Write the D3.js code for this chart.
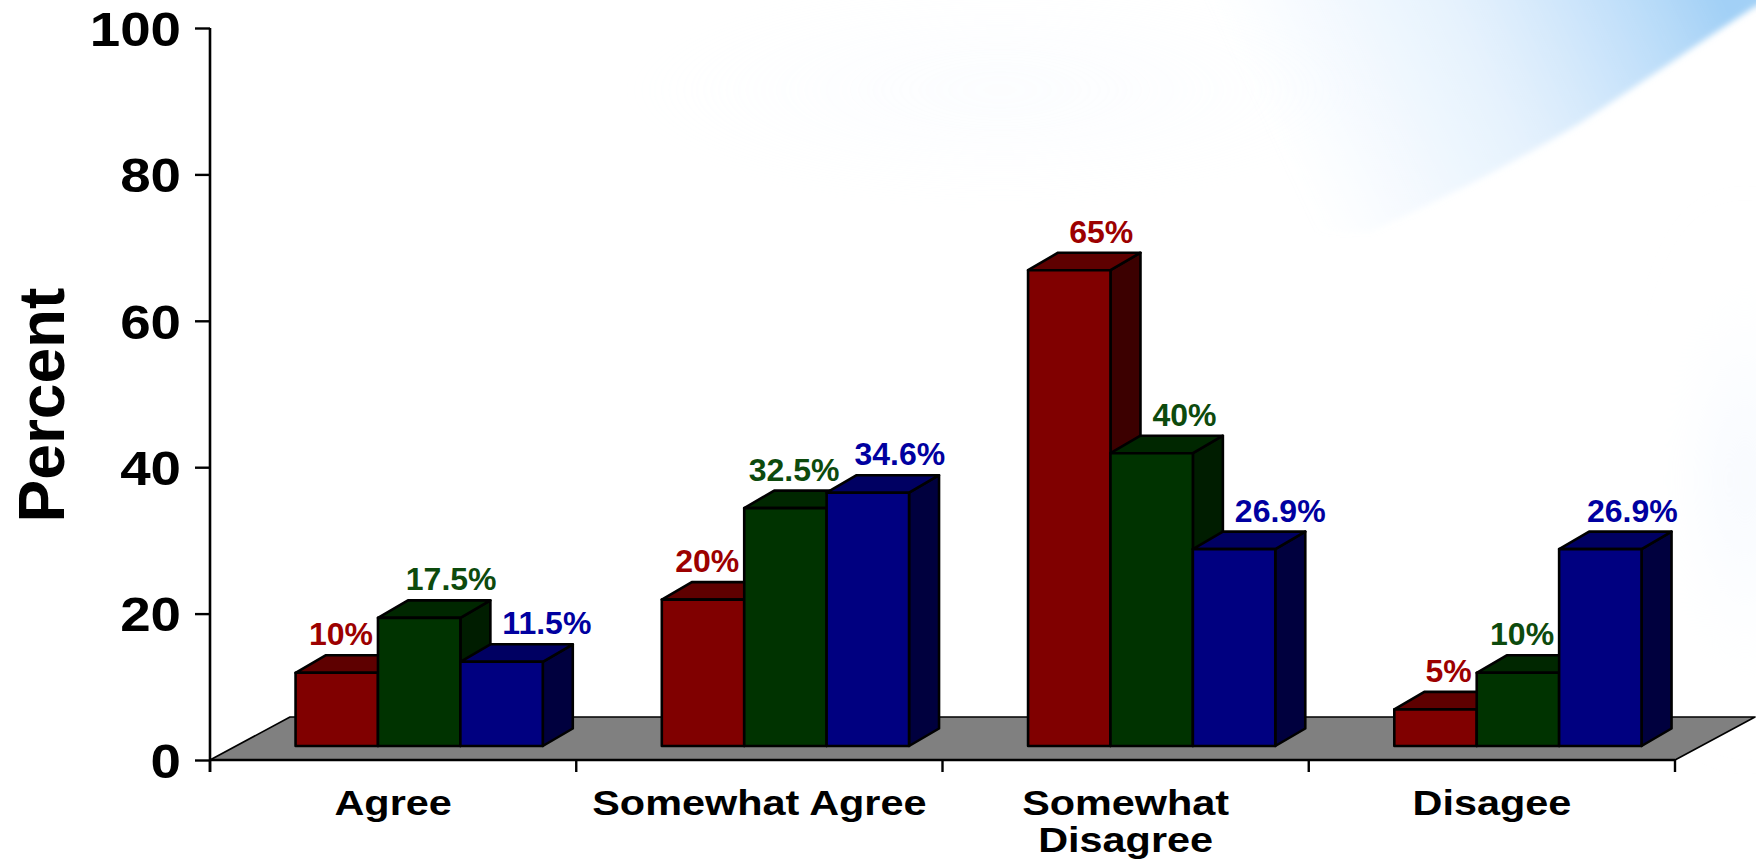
<!DOCTYPE html>
<html>
<head>
<meta charset="utf-8">
<script src="https://cdn.jsdelivr.net/npm/d3@7"></script>
<style>
  html, body { margin: 0; padding: 0; background: #ffffff; }
  svg { display: block; }
  text { font-family: "Liberation Sans", Arial, Helvetica, sans-serif; font-weight: bold; }
</style>
</head>
<body>
<svg id="chart" width="1756" height="862"></svg>
<script>
// ---- data ----
const categories = ["Agree", "Somewhat Agree", "Somewhat Disagree", "Disagee"];
const seriesNames = ["Series 1", "Series 2", "Series 3"];
const series1 = [10, 20, 65, 5];
const series2 = [17.5, 32.5, 40, 10];
const series3 = [11.5, 34.6, 26.9, 26.9];
const yTicks = [0, 20, 40, 60, 80, 100];
const yTitle = "Percent";

// ---- styling ----
const faceColors = [
  { front: "#800000", top: "#5e0000", side: "#3c0000", label: "#9c0000" },
  { front: "#003300", top: "#002700", side: "#001d00", label: "#0d4a0d" },
  { front: "#000080", top: "#000062", side: "#00003e", label: "#0000a0" }
];

const W = 1756, H = 862;
const svg = d3.select("#chart");

// ---- background: white slide with a soft sky-blue sweep in the upper right ----
const defs = svg.append("defs");
const sky = defs.append("linearGradient").attr("id", "sky")
  .attr("gradientUnits", "userSpaceOnUse")
  .attr("x1", 1300).attr("y1", 200).attr("x2", 1720).attr("y2", 0);
sky.append("stop").attr("offset", 0).attr("stop-color", "#d6eafc").attr("stop-opacity", 0);
sky.append("stop").attr("offset", 0.5).attr("stop-color", "#c9e3fb").attr("stop-opacity", 0.5);
sky.append("stop").attr("offset", 1).attr("stop-color", "#a2d0f6").attr("stop-opacity", 1);
const haze = defs.append("radialGradient").attr("id", "haze")
  .attr("cx", 0.5).attr("cy", 0.5).attr("r", 0.5);
haze.append("stop").attr("offset", 0).attr("stop-color", "#eef5fd").attr("stop-opacity", 0.8);
haze.append("stop").attr("offset", 1).attr("stop-color", "#ffffff").attr("stop-opacity", 0);
defs.append("filter").attr("id", "soft").attr("x", "-10%").attr("y", "-10%").attr("width", "120%").attr("height", "120%")
  .append("feGaussianBlur").attr("stdDeviation", 3);
defs.append("filter").attr("id", "softer").attr("x", "-20%").attr("y", "-20%").attr("width", "140%").attr("height", "140%")
  .append("feGaussianBlur").attr("stdDeviation", 30);

svg.append("rect").attr("width", W).attr("height", H).attr("fill", "#ffffff");
const bg = svg.append("g");
bg.append("ellipse").attr("cx", 1000).attr("cy", 90).attr("rx", 480).attr("ry", 130)
  .attr("fill", "url(#haze)").attr("filter", "url(#softer)").attr("opacity", 0.35);
bg.append("ellipse").attr("cx", 1745).attr("cy", 480).attr("rx", 70).attr("ry", 260)
  .attr("fill", "url(#haze)").attr("filter", "url(#softer)");
bg.append("path")
  .attr("d", "M1200,-10 L1766,-10 L1766,4 L1756,6 C1700,42 1640,84 1580,123 C1510,165 1440,200 1370,232 L1200,232 Z")
  .attr("fill", "url(#sky)")
  .attr("filter", "url(#soft)");

// ---- scales ----
const y = d3.scaleLinear().domain([0, 100]).range([760, 28]);
const x = d3.scaleBand().domain(categories).range([210, 1675]);
const floorDepth = { dx: 80, dy: -43 };
const barDepth = { dx: 30, dy: -17.5 };
const barInset = 14 / 43;                       // bars stand part-way back on the floor
const groupWidth = x.bandwidth() * 0.675;
const inner = d3.scaleBand().domain(seriesNames).range([0, groupWidth]);
const insetX = floorDepth.dx * barInset;
const insetY = floorDepth.dy * barInset;

const [x0, x1] = x.range();
const y0 = y(0);

// ---- floor ----
svg.append("path")
  .attr("d", d3.line()([
    [x0, y0], [x1, y0],
    [x1 + floorDepth.dx, y0 + floorDepth.dy],
    [x0 + floorDepth.dx, y0 + floorDepth.dy]
  ]) + "Z")
  .attr("fill", "#808080")
  .attr("stroke", "#000")
  .attr("stroke-width", 1.6)
  .attr("stroke-linejoin", "round");

// ---- y axis ----
const tickScaleX = 1.14;
const yAxis = svg.append("g")
  .attr("transform", `translate(${x0},0)`)
  .call(d3.axisLeft(y).tickValues(yTicks).tickSize(15).tickSizeOuter(0));
yAxis.select(".domain").remove();
yAxis.selectAll(".tick line").attr("stroke", "#000").attr("stroke-width", 2.4);
yAxis.selectAll(".tick text")
  .attr("x", -29 / tickScaleX)
  .attr("dy", "0.36em")
  .attr("transform", `scale(${tickScaleX},1)`)
  .attr("font-size", 48)
  .attr("font-family", "'Liberation Sans', Arial, sans-serif")
  .attr("font-weight", "bold")
  .attr("fill", "#000");
svg.append("line")
  .attr("x1", x0).attr("x2", x0)
  .attr("y1", y(100)).attr("y2", y0 + 12)
  .attr("stroke", "#000").attr("stroke-width", 2.6);

svg.append("text")
  .attr("transform", `translate(64,${(y(0) + y(100)) / 2 + 11}) rotate(-90)`)
  .attr("text-anchor", "middle")
  .attr("font-size", 64)
  .attr("fill", "#000")
  .text(yTitle);

// ---- x axis ----
svg.append("line")
  .attr("x1", x0).attr("x2", x1)
  .attr("y1", y0).attr("y2", y0)
  .attr("stroke", "#000").attr("stroke-width", 2.6);
svg.append("g").selectAll("line")
  .data([...categories.map(c => x(c)), x1])
  .join("line")
  .attr("x1", d => d).attr("x2", d => d)
  .attr("y1", y0).attr("y2", y0 + 12)
  .attr("stroke", "#000").attr("stroke-width", 2.4);

const catScaleX = 1.15;
const catFont = 36;
const xAxis = svg.append("g")
  .attr("transform", `translate(0,${y0})`)
  .call(d3.axisBottom(x).tickSize(0).tickPadding(0));
xAxis.select(".domain").remove();
xAxis.selectAll(".tick text")
  .attr("font-size", catFont)
  .attr("font-family", "'Liberation Sans', Arial, sans-serif")
  .attr("font-weight", "bold")
  .attr("fill", "#000")
  .attr("transform", `scale(${catScaleX},1)`)
  .attr("y", 55)
  .attr("dy", 0)
  .each(function (d) {
    // wrap labels that are wider than their band
    const t = d3.select(this);
    const words = d.split(" ");
    t.text(d);
    if (this.getComputedTextLength() * catScaleX <= x.bandwidth() - 10) return;
    t.text(null);
    const lines = [];
    let cur = [];
    words.forEach(w => {
      const test = cur.concat([w]).join(" ");
      t.text(test);
      if (cur.length && this.getComputedTextLength() * catScaleX > x.bandwidth() - 10) {
        lines.push(cur.join(" "));
        cur = [w];
      } else cur.push(w);
    });
    lines.push(cur.join(" "));
    t.text(null);
    lines.forEach((ln, i) => {
      t.append("tspan").attr("x", 0).attr("y", 55 + i * 37).text(ln);
    });
  });

// ---- 3D bars ----
const allSeries = [series1, series2, series3];
const bars = [];
categories.forEach((c, ci) => {
  allSeries.forEach((vals, si) => {
    const v = vals[ci];
    const left = x(c) + (x.bandwidth() - groupWidth) / 2 + insetX + inner(seriesNames[si]);
    const w = inner.bandwidth();
    bars.push({
      ci, si, v, left, w,
      right: left + w,
      top: y(v) + insetY,
      base: y0 + insetY
    });
  });
});

const barG = svg.append("g")
  .attr("stroke", "#000")
  .attr("stroke-width", 2.6)
  .attr("stroke-linejoin", "round");
const line = d3.line();
bars.forEach(b => {
  const g = barG.append("g");
  const dx = barDepth.dx, dy = barDepth.dy;
  g.append("path")
    .attr("fill", faceColors[b.si].side)
    .attr("d", line([[b.right, b.base], [b.right + dx, b.base + dy], [b.right + dx, b.top + dy], [b.right, b.top]]) + "Z");
  g.append("path")
    .attr("fill", faceColors[b.si].top)
    .attr("d", line([[b.left, b.top], [b.right, b.top], [b.right + dx, b.top + dy], [b.left + dx, b.top + dy]]) + "Z");
  g.append("path")
    .attr("fill", faceColors[b.si].front)
    .attr("d", line([[b.left, b.base], [b.right, b.base], [b.right, b.top], [b.left, b.top]]) + "Z");
});

// ---- value labels, nudged sideways to stay clear of neighbouring bars ----
const labelFont = 32;
const labelG = svg.append("g");
const labels = bars.map(b => {
  const t = labelG.append("text")
    .attr("font-size", labelFont)
    .attr("fill", faceColors[b.si].label)
    .attr("text-anchor", "middle")
    .text(b.v + "%");
  const w = t.node().getComputedTextLength();
  return {
    b, t, w,
    cx: b.left + b.w / 2 + barDepth.dx + 2,
    baseline: b.top + barDepth.dy - 10
  };
});
categories.forEach((c, ci) => {
  const grp = labels.filter(l => l.b.ci === ci);
  grp.forEach((l, i) => {
    const nextBar = grp[i + 1] && grp[i + 1].b;
    const prevBar = grp[i - 1] && grp[i - 1].b;
    if (nextBar && l.baseline > nextBar.top) {
      const maxRight = nextBar.left - 5;
      if (l.cx + l.w / 2 > maxRight) l.cx = maxRight - l.w / 2;
    }
    if (prevBar && l.baseline - labelFont * 0.7 > prevBar.top + barDepth.dy) {
      const minLeft = prevBar.right + barDepth.dx + 12;
      if (l.cx - l.w / 2 < minLeft) l.cx = minLeft + l.w / 2;
    }
  });
  for (let i = grp.length - 2; i >= 0; i--) {
    const a = grp[i], b = grp[i + 1];
    if (Math.abs(a.baseline - b.baseline) < labelFont) {
      const maxRight = b.cx - b.w / 2 - 15;
      if (a.cx + a.w / 2 > maxRight) a.cx = maxRight - a.w / 2;
    }
  }
});
labels.forEach(l => l.t.attr("x", l.cx).attr("y", l.baseline));
</script>
</body>
</html>
